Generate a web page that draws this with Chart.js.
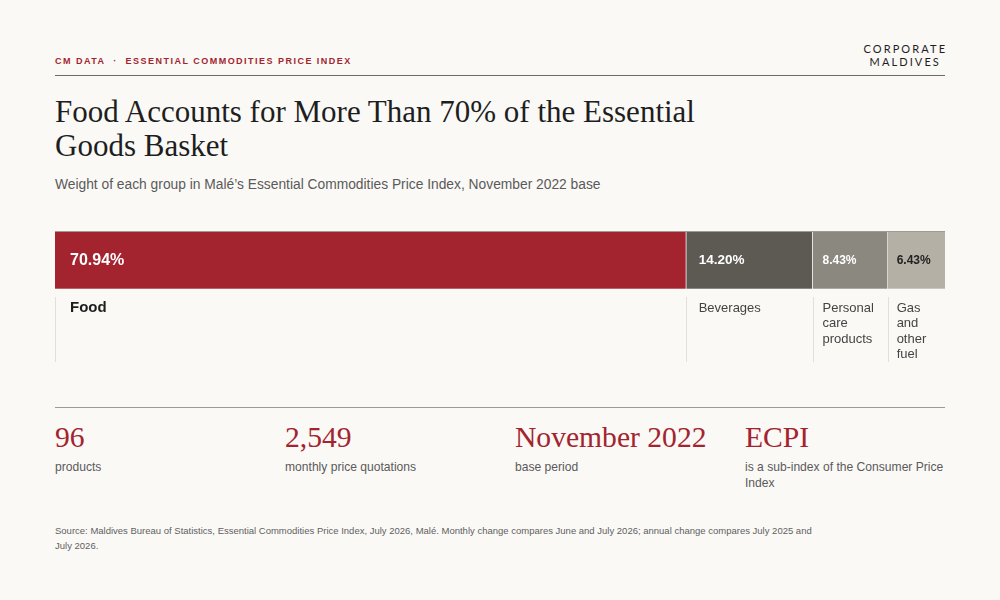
<!DOCTYPE html>
<html><head><meta charset="utf-8">
<script src="https://cdn.jsdelivr.net/npm/chart.js@4"></script>
<style>
html,body{margin:0;padding:0}
body{background:#faf9f6;width:1000px;height:600px;overflow:hidden;position:relative;font-family:"Liberation Sans",Arial,sans-serif}
.abs{position:absolute}
#kicker{left:55px;top:55px;font-size:9px;line-height:12px;font-weight:700;letter-spacing:1.48px;color:#a3242e;white-space:nowrap}
#logo{right:55px;top:42px;font-family:Lato,"DejaVu Sans",sans-serif;font-size:11px;line-height:13px;letter-spacing:2.1px;color:#1e1e1e;text-align:center;margin-right:-2.1px}
.rule{left:55px;width:890px;height:1px}
#title{left:55px;top:95px;width:700px;font-family:"Liberation Serif",serif;font-size:31px;line-height:34px;color:#1e1e1e}
#sub{left:55px;top:176px;font-size:13.8px;line-height:18px;color:#5a5a5a;white-space:nowrap}
#chartBox{left:55px;top:220px;width:890px;height:150px}
.stat{top:420px;width:205px}
.stat .num{font-family:"Liberation Serif",serif;font-size:29.6px;line-height:34px;color:#a3242e;white-space:nowrap}
.stat .lab{font-size:12.1px;line-height:15.5px;color:#5a5a5a;margin-top:6px}
#foot{left:55px;top:523px;width:760px;font-size:9.5px;line-height:15px;color:#5f5f5f}
</style></head><body>
<div id="kicker" class="abs">CM DATA &nbsp;·&nbsp; ESSENTIAL COMMODITIES PRICE INDEX</div>
<div id="logo" class="abs">CORPORATE<br>MALDIVES</div>
<div class="abs rule" style="top:75px;background:#6e6c68"></div>
<div id="title" class="abs">Food Accounts for More Than 70% of the Essential Goods Basket</div>
<div id="sub" class="abs">Weight of each group in Malé’s Essential Commodities Price Index, November 2022 base</div>
<div id="chartBox" class="abs"><canvas id="c"></canvas></div>
<div class="abs rule" style="top:407px;background:#9c9a96"></div>
<div id="stats"></div>
<div id="foot" class="abs">Source: Maldives Bureau of Statistics, Essential Commodities Price Index, July 2026, Malé. Monthly change compares June and July 2026; annual change compares July 2025 and July 2026.</div>
<script>
// ---- data ----
const groups = ["Food", "Beverages", "Personal care products", "Gas and other fuel"];
const weights = [70.94, 14.20, 8.43, 6.43];
const statValues = ["96", "2,549", "November 2022", "ECPI"];
const statLabels = ["products", "monthly price quotations", "base period", "is a sub-index of the Consumer Price Index"];

// ---- styles ----
const barColors = ["#a3242e", "#5d5a53", "#8b8880", "#b4b0a6"];
const valueColors = ["#ffffff", "#ffffff", "#ffffff", "#222222"];

// stats
const statsEl = document.getElementById('stats');
statValues.forEach((v, i) => {
  const d = document.createElement('div');
  d.className = 'abs stat';
  d.style.left = (55 + i * 230) + 'px';
  d.innerHTML = '<div class="num"></div><div class="lab"></div>';
  d.querySelector('.num').textContent = v;
  d.querySelector('.lab').textContent = statLabels[i];
  statsEl.appendChild(d);
});

function wrap(ctx, text, maxW) {
  const words = text.split(' ');
  const lines = [];
  let cur = '';
  words.forEach(w => {
    const t = cur ? cur + ' ' + w : w;
    if (cur && ctx.measureText(t).width > maxW) { lines.push(cur); cur = w; }
    else cur = t;
  });
  if (cur) lines.push(cur);
  return lines;
}

const labelPlugin = {
  id: 'segLabels',
  afterDatasetsDraw(chart) {
    const ctx = chart.ctx;
    const xs = chart.scales.x;
    const area = chart.chartArea;
    ctx.save();
    ctx.fillStyle = '#9e9991';
    ctx.fillRect(area.left, area.top - 1, area.right - area.left, 1);
    ctx.fillStyle = 'rgba(255,255,255,0.28)';
    ctx.fillRect(area.left, area.bottom - 1, area.right - area.left, 1);
    let cum = 0;
    weights.forEach((w, i) => {
      const x0 = xs.getPixelForValue(cum);
      const x1 = xs.getPixelForValue(cum + w);
      cum += w;
      const segW = x1 - x0;
      const pad = Math.min(15, 6 + segW * 0.05);
      const fs = segW > 300 ? 16 : segW > 100 ? 13.5 : 12;
      ctx.font = 'bold ' + fs + 'px "Liberation Sans", Arial, sans-serif';
      ctx.fillStyle = valueColors[i];
      ctx.textBaseline = 'middle';
      ctx.textAlign = 'left';
      ctx.fillText(weights[i].toFixed(2) + '%', x0 + pad, (area.top + area.bottom) / 2);
      ctx.fillStyle = '#e3e0da';
      ctx.fillRect(Math.round(x0), area.bottom + 8, 1, 65);
      const big = i === 0;
      ctx.font = (big ? 'bold 15px' : '13px') + ' "Liberation Sans", Arial, sans-serif';
      ctx.fillStyle = big ? '#1e1e1e' : '#444444';
      const lines = wrap(ctx, groups[i], segW - pad * 2);
      lines.forEach((ln, k) => {
        ctx.fillText(ln, x0 + pad, area.bottom + 19 + k * 15.5);
      });
    });
    ctx.restore();
  }
};

new Chart(document.getElementById('c'), {
  type: 'bar',
  data: {
    labels: ['ECPI'],
    datasets: groups.map((g, i) => ({
      label: g,
      data: [weights[i]],
      backgroundColor: barColors[i],
      borderColor: 'rgba(255,255,255,0.3)',
      borderWidth: {left: 0, right: i < groups.length - 1 ? 1 : 0, top: 0, bottom: 0},
      borderSkipped: false,
      barPercentage: 1,
      categoryPercentage: 1
    }))
  },
  options: {
    indexAxis: 'y',
    responsive: true,
    maintainAspectRatio: false,
    animation: false,
    layout: {padding: {top: 12, bottom: 81, left: 0, right: 0}},
    plugins: {legend: {display: false}, tooltip: {enabled: false}},
    scales: {
      x: {stacked: true, min: 0, max: 100, display: false},
      y: {stacked: true, display: false}
    }
  },
  plugins: [labelPlugin]
});
</script>
</body></html>
